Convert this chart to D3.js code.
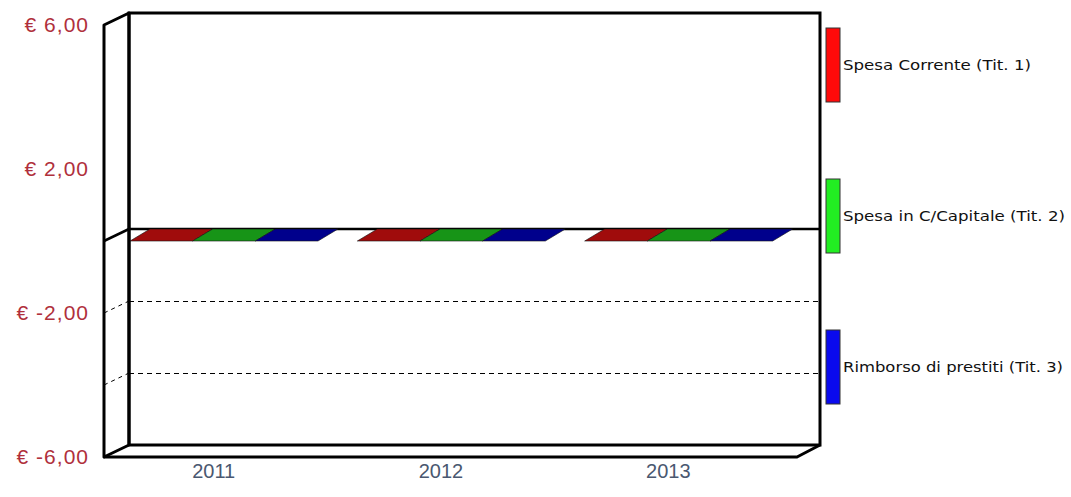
<!DOCTYPE html>
<html>
<head>
<meta charset="utf-8">
<script src="https://cdn.jsdelivr.net/npm/d3@7"></script>
<style>
  html, body { margin: 0; padding: 0; background: #fff; }
  svg { display: block; }
</style>
</head>
<body>
<svg id="chart" width="1071" height="497"></svg>
<script>
// ---- data ----
const categories = ["2011", "2012", "2013"];
const seriesNames = ["Spesa Corrente (Tit. 1)", "Spesa in C/Capitale (Tit. 2)", "Rimborso di prestiti (Tit. 3)"];
const spesaCorrente = [0, 0, 0];
const spesaCapitale = [0, 0, 0];
const rimborsoPrestiti = [0, 0, 0];
const yTickValues = [6, 2, -2, -6];
const yTickLabels = ["€ 6,00", "€ 2,00", "€ -2,00", "€ -6,00"];
const gridValues = [-2, -4];
const legendColors = ["#ff0a0a", "#22ee22", "#0a0aee"];
const topColors = ["#a00c0c", "#179417", "#00008c"];

const seriesValues = [spesaCorrente, spesaCapitale, rimborsoPrestiti];

// ---- geometry ----
const svg = d3.select("#chart");
const frontLeft = 104, frontRight = 797;
const depthX = 25, depthY = 12;      // wall depth
const barDX = 20, barDY = 12;        // bar depth

const y = d3.scaleLinear().domain([-6, 6]).range([457, 25]);
const x = d3.scaleBand().domain(categories).range([110, 792]);
const xInner = d3.scaleBand().domain(seriesNames).range([20, 208]);

const backTop = y(6) - depthY, backBottom = y(-6) - depthY;
const backLeft = frontLeft + depthX, backRight = frontRight + 23;

// back wall
svg.append("rect")
  .attr("x", backLeft).attr("y", backTop)
  .attr("width", backRight - backLeft).attr("height", backBottom - backTop)
  .attr("fill", "#fff");

// dashed grid lines (back wall + left wall)
const grid = svg.append("g");
gridValues.forEach(v => {
  grid.append("line")
    .attr("x1", backLeft).attr("x2", backRight)
    .attr("y1", y(v) - depthY + 0.5).attr("y2", y(v) - depthY + 0.5)
    .attr("stroke", "#000").attr("stroke-width", 1)
    .attr("stroke-dasharray", "5,4");
  grid.append("line")
    .attr("x1", frontLeft).attr("x2", backLeft)
    .attr("y1", y(v)).attr("y2", y(v) - depthY)
    .attr("stroke", "#000").attr("stroke-width", 1)
    .attr("stroke-dasharray", "4,4");
});

// zero line
svg.append("line")
  .attr("x1", backLeft).attr("x2", backRight)
  .attr("y1", y(0) - depthY).attr("y2", y(0) - depthY)
  .attr("stroke", "#000").attr("stroke-width", 2.5);
svg.append("line")
  .attr("x1", frontLeft).attr("x2", backLeft)
  .attr("y1", y(0)).attr("y2", y(0) - depthY)
  .attr("stroke", "#000").attr("stroke-width", 2.5);

// walls
const wallStroke = 3;
svg.append("rect")
  .attr("x", backLeft).attr("y", backTop)
  .attr("width", backRight - backLeft).attr("height", backBottom - backTop)
  .attr("fill", "none").attr("stroke", "#000").attr("stroke-width", wallStroke);
svg.append("path")
  .attr("d", `M${frontLeft},${y(-6)} L${frontLeft},${y(6)} L${backLeft},${backTop} L${backLeft},${backBottom} Z`)
  .attr("fill", "none").attr("stroke", "#000").attr("stroke-width", wallStroke)
  .attr("stroke-linejoin", "round");
svg.append("path")
  .attr("d", `M${frontLeft},${y(-6)} L${frontRight},${y(-6)} L${backRight},${backBottom}`)
  .attr("fill", "none").attr("stroke", "#000").attr("stroke-width", wallStroke)
  .attr("stroke-linejoin", "round");

// bars
const bars = svg.append("g");
categories.forEach((cat, ci) => {
  seriesNames.forEach((s, si) => {
    const v = seriesValues[si][ci];
    const x0 = x(cat) + xInner(s);
    const w = xInner.bandwidth();
    const yTop = y(Math.max(v, 0));
    const yBot = y(Math.min(v, 0));
    if (yBot - yTop > 0) {
      bars.append("rect")
        .attr("x", x0).attr("y", yTop).attr("width", w).attr("height", yBot - yTop)
        .attr("fill", legendColors[si]).attr("stroke", "#000").attr("stroke-width", 0.5);
    }
    bars.append("path")
      .attr("d", `M${x0},${yTop} L${x0 + w},${yTop} L${x0 + w + barDX},${yTop - barDY} L${x0 + barDX},${yTop - barDY} Z`)
      .attr("fill", topColors[si]).attr("stroke", "#101010").attr("stroke-width", 0.6);
  });
});

// y axis labels
svg.append("g").selectAll("text")
  .data(yTickValues)
  .join("text")
  .attr("x", 89)
  .attr("y", d => y(d) + 1)
  .attr("text-anchor", "end")
  .attr("dominant-baseline", "middle")
  .attr("font-family", "Liberation Sans, Arial, sans-serif")
  .attr("font-size", 21)
  .attr("letter-spacing", 1)
  .attr("fill", "#b0303c")
  .text((d, i) => yTickLabels[i]);

// x axis labels
svg.append("g").selectAll("text")
  .data(categories)
  .join("text")
  .attr("x", d => x(d) + x.bandwidth() / 2 - 10)
  .attr("y", 473)
  .attr("text-anchor", "middle")
  .attr("dominant-baseline", "middle")
  .attr("font-family", "Liberation Sans, Arial, sans-serif")
  .attr("font-size", 20)
  .attr("fill", "#4a5870")
  .text(d => d);

// legend
const legendY = d3.scalePoint().domain(seriesNames).range([65, 367]);
const legendTextWidth = [188, 222, 220];
const legend = svg.append("g");
seriesNames.forEach((s, i) => {
  const cy = legendY(s);
  legend.append("rect")
    .attr("x", 826).attr("y", cy - 37).attr("width", 14).attr("height", 74)
    .attr("fill", legendColors[i]).attr("stroke", "#333").attr("stroke-width", 1);
  legend.append("text")
    .attr("x", 843).attr("y", cy + 1)
    .attr("dominant-baseline", "middle")
    .attr("font-family", "DejaVu Sans, sans-serif")
    .attr("font-size", 14)
    .attr("textLength", legendTextWidth[i])
    .attr("lengthAdjust", "spacingAndGlyphs")
    .attr("fill", "#111")
    .text(s);
});
</script>
</body>
</html>
